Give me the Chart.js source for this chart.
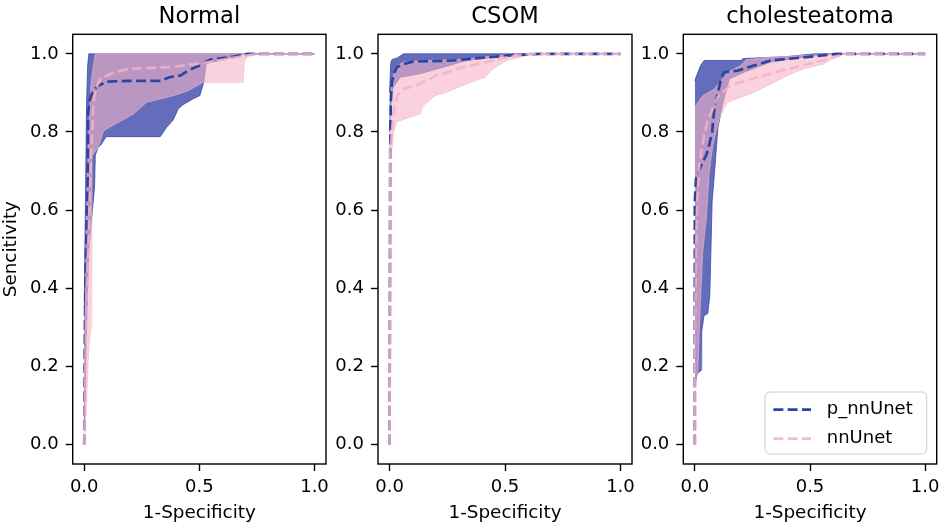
<!DOCTYPE html>
<html>
<head>
<meta charset="utf-8">
<script src="https://cdn.jsdelivr.net/npm/chart.js@4.4.1/dist/chart.umd.min.js"></script>
<style>
  html, body { margin: 0; padding: 0; background: #fff; }
  #wrap { position: relative; width: 941px; height: 526px; overflow: hidden; }
  canvas { position: absolute; top: 0; }
</style>
</head>
<body>
<div id="wrap">
  <canvas id="c1" width="332" height="526" style="left:0px"></canvas>
  <canvas id="c2" width="320" height="526" style="left:318px"></canvas>
  <canvas id="c3" width="318" height="526" style="left:623px"></canvas>
</div>
<script>
const panelNames = ['Normal', 'CSOM', 'cholesteatoma'];
const modelNames = ['p_nnUnet', 'nnUnet'];
const xTicks = [0, 0.5, 1.0];
const yTicks = [0, 0.2, 0.4, 0.6, 0.8, 1.0];

// [1-specificity, sensitivity] pairs, p_ = p_nnUnet, others = nnUnet
const normalPMean = [[0,0],[0.003,0.3],[0.008,0.5],[0.015,0.66],[0.017,0.85],[0.025,0.885],[0.035,0.9],[0.055,0.917],[0.1,0.929],[0.2,0.931],[0.33,0.931],[0.37,0.94],[0.42,0.945],[0.45,0.957],[0.5,0.97],[0.545,0.985],[0.65,0.993],[0.71,1.0],[1.0,1.0]];
const normalPUpper = [[0,0.35],[0.005,0.6],[0.01,0.87],[0.015,0.97],[0.02,1.0],[1.0,1.0]];
const normalPLower = [[0,0.05],[0.01,0.3],[0.02,0.5],[0.045,0.66],[0.048,0.74],[0.06,0.76],[0.07,0.765],[0.095,0.788],[0.33,0.788],[0.358,0.812],[0.387,0.831],[0.408,0.859],[0.427,0.869],[0.473,0.885],[0.502,0.893],[0.519,0.927],[0.53,0.975],[0.6,0.985],[0.7,1.0],[1.0,1.0]];
const normalMean = [[0,0],[0.005,0.2],[0.01,0.4],[0.02,0.55],[0.03,0.75],[0.04,0.87],[0.05,0.91],[0.07,0.936],[0.13,0.953],[0.2,0.962],[0.37,0.966],[0.5,0.975],[0.6,0.985],[0.7,0.995],[0.75,1.0],[1.0,1.0]];
const normalUpper = [[0,0.1],[0.005,0.35],[0.01,0.6],[0.02,0.8],[0.03,0.93],[0.04,0.97],[0.048,1.0],[1.0,1.0]];
const normalLower = [[0,0],[0.01,0.1],[0.02,0.25],[0.03,0.3],[0.033,0.47],[0.034,0.74],[0.062,0.76],[0.084,0.803],[0.11,0.812],[0.214,0.846],[0.271,0.876],[0.387,0.893],[0.45,0.905],[0.517,0.927],[0.69,0.927],[0.695,0.98],[0.715,1.0],[1.0,1.0]];

const csomPMean = [[0,0],[0.003,0.75],[0.005,0.87],[0.01,0.926],[0.02,0.952],[0.032,0.966],[0.06,0.974],[0.1,0.98],[0.275,0.983],[0.42,0.991],[0.52,0.996],[0.65,1.0],[1.0,1.0]];
const csomPUpper = [[0,0.9],[0.005,0.975],[0.01,0.985],[0.035,0.99],[0.06,1.0],[1.0,1.0]];
const csomPLower = [[0,0.8],[0.005,0.86],[0.01,0.9],[0.017,0.915],[0.046,0.94],[0.132,0.949],[0.233,0.966],[0.334,0.983],[0.45,0.992],[0.6,1.0],[1.0,1.0]];
const csomMean = [[0,0],[0.003,0.75],[0.01,0.8],[0.02,0.86],[0.035,0.895],[0.06,0.91],[0.12,0.92],[0.2,0.944],[0.32,0.966],[0.42,0.979],[0.5,0.99],[0.6,1.0],[1.0,1.0]];
const csomUpper = [[0,0.75],[0.005,0.85],[0.01,0.93],[0.025,0.966],[0.06,0.979],[0.15,0.983],[0.33,0.986],[0.45,0.995],[0.55,1.0],[1.0,1.0]];
const csomLower = [[0,0.75],[0.01,0.752],[0.017,0.8],[0.032,0.826],[0.089,0.838],[0.132,0.846],[0.146,0.867],[0.197,0.893],[0.248,0.902],[0.334,0.923],[0.413,0.94],[0.449,0.962],[0.507,0.983],[0.593,0.995],[0.65,1.0],[1.0,1.0]];

const cholPMean = [[0,0],[0,0.62],[0.005,0.68],[0.027,0.714],[0.049,0.74],[0.06,0.76],[0.075,0.8],[0.085,0.86],[0.1,0.9],[0.114,0.936],[0.128,0.953],[0.186,0.957],[0.257,0.97],[0.33,0.983],[0.4,0.987],[0.47,0.991],[0.62,1.0],[1.0,1.0]];
const cholPUpper = [[0,0.93],[0.005,0.94],[0.025,0.97],[0.04,0.983],[0.2,0.983],[0.21,0.988],[0.4,0.993],[0.52,1.0],[1.0,1.0]];
const cholPLower = [[0,0.15],[0.01,0.18],[0.027,0.19],[0.03,0.29],[0.04,0.33],[0.056,0.335],[0.065,0.38],[0.075,0.62],[0.09,0.73],[0.1,0.81],[0.12,0.87],[0.15,0.936],[0.214,0.953],[0.33,0.979],[0.45,0.99],[0.55,0.997],[0.65,1.0],[1.0,1.0]];
const cholMean = [[0,0],[0,0.2],[0.005,0.5],[0.01,0.62],[0.02,0.72],[0.04,0.79],[0.056,0.83],[0.1,0.89],[0.157,0.92],[0.27,0.94],[0.373,0.957],[0.531,0.979],[0.6,0.99],[0.65,1.0],[1.0,1.0]];
const cholUpper = [[0,0.86],[0.003,0.867],[0.034,0.893],[0.085,0.91],[0.142,0.953],[0.2,0.97],[0.222,0.985],[0.3,0.99],[0.45,0.995],[0.6,1.0],[1.0,1.0]];
const cholLower = [[0,0.16],[0.013,0.18],[0.02,0.3],[0.034,0.49],[0.05,0.58],[0.063,0.7],[0.078,0.765],[0.092,0.8],[0.106,0.833],[0.125,0.859],[0.142,0.876],[0.2,0.889],[0.257,0.902],[0.33,0.923],[0.4,0.944],[0.473,0.962],[0.56,0.974],[0.6,0.99],[0.65,1.0],[1.0,1.0]];

const blueLine = '#2a44a2';
const pinkLine = 'rgba(245, 178, 198, 0.85)';
const blueFill = 'rgba(60, 72, 170, 0.8)';
const pinkFill = 'rgba(245, 180, 200, 0.6)';

Chart.defaults.font.family = '"DejaVu Sans", sans-serif';
Chart.defaults.color = '#000';
Chart.defaults.elements.point.radius = 0;

function toPoints(pairs) {
    return pairs.map(p => ({ x: p[0], y: p[1] }));
}

// box around the plot area, like matplotlib spines
const framePlugin = {
    id: 'frame',
    afterDatasetsDraw(chart) {
        const a = chart.chartArea;
        const ctx = chart.ctx;
        ctx.save();
        ctx.strokeStyle = '#000';
        ctx.lineWidth = 1.4;
        ctx.strokeRect(a.left, a.top, a.right - a.left, a.bottom - a.top);
        ctx.restore();
    }
};

// legend drawn inside the lower right corner
const insideLegend = {
    id: 'insideLegend',
    afterDraw(chart, args, opts) {
        if (!opts.show) return;
        const ctx = chart.ctx;
        const a = chart.chartArea;
        const items = modelNames.map(n => chart.data.datasets.find(d => d.label === n));
        ctx.save();
        ctx.font = '18px "DejaVu Sans", sans-serif';
        const textW = Math.max(...items.map(d => ctx.measureText(d.label).width));
        const w = 8.3 + 37.7 + 15.7 + textW + 14;
        const h = 62;
        const right = a.right - 10, bottom = a.bottom - 10;
        const left = right - w, top = bottom - h, r = 5;
        ctx.beginPath();
        ctx.moveTo(left + r, top);
        ctx.lineTo(right - r, top);
        ctx.arcTo(right, top, right, top + r, r);
        ctx.lineTo(right, bottom - r);
        ctx.arcTo(right, bottom, right - r, bottom, r);
        ctx.lineTo(left + r, bottom);
        ctx.arcTo(left, bottom, left, bottom - r, r);
        ctx.lineTo(left, top + r);
        ctx.arcTo(left, top, left + r, top, r);
        ctx.closePath();
        ctx.fillStyle = 'rgba(255,255,255,0.8)';
        ctx.fill();
        ctx.strokeStyle = '#cccccc';
        ctx.lineWidth = 1;
        ctx.stroke();
        items.forEach((d, i) => {
            const y = top + 17.6 + i * 29;
            ctx.beginPath();
            ctx.setLineDash(d.borderDash);
            ctx.strokeStyle = d.borderColor;
            ctx.lineWidth = d.borderWidth;
            ctx.moveTo(left + 8.3, y);
            ctx.lineTo(left + 46, y);
            ctx.stroke();
            ctx.setLineDash([]);
            ctx.fillStyle = '#000';
            ctx.textBaseline = 'middle';
            ctx.textAlign = 'left';
            ctx.fillText(d.label, left + 61.7, y);
        });
        ctx.restore();
    }
};

function buildDatasets(pMean, pUpper, pLower, mean, upper, lower) {
    const meanStyle = { borderWidth: 2.7, borderDash: [10, 4.3], fill: false, tension: 0 };
    const bandStyle = { borderWidth: 1, tension: 0 };
    return [
        Object.assign({ label: modelNames[1], data: toPoints(mean), borderColor: pinkLine }, meanStyle),
        Object.assign({ label: modelNames[0], data: toPoints(pMean), borderColor: blueLine }, meanStyle),
        Object.assign({ data: toPoints(upper), borderColor: pinkFill, backgroundColor: pinkFill, fill: '+1' }, bandStyle),
        Object.assign({ data: toPoints(lower), borderColor: pinkFill, fill: false }, bandStyle),
        Object.assign({ data: toPoints(pUpper), borderColor: blueFill, backgroundColor: blueFill, fill: '+1' }, bandStyle),
        Object.assign({ data: toPoints(pLower), borderColor: blueFill, fill: false }, bandStyle)
    ];
}

function makeChart(id, title, datasets, yWidth, padRight, showYTitle, showLegend) {
    return new Chart(document.getElementById(id), {
        type: 'line',
        data: { datasets: datasets },
        options: {
            responsive: false,
            animation: false,
            layout: { padding: { right: padRight } },
            plugins: {
                legend: { display: false },
                tooltip: { enabled: false },
                title: {
                    display: true, text: title, fullSize: false, color: '#000',
                    font: { size: 22.6, weight: 'normal' },
                    padding: { top: 3.7, bottom: 3.5 }
                },
                insideLegend: { show: showLegend }
            },
            scales: {
                x: {
                    type: 'linear', min: -0.05, max: 1.05,
                    afterBuildTicks: s => { s.ticks = xTicks.map(v => ({ value: v })); },
                    afterFit: s => { s.height = 62; s.paddingLeft = 0; s.paddingRight = 0; },
                    ticks: { callback: v => v.toFixed(1), font: { size: 18 }, color: '#000', padding: 5.5, maxRotation: 0, autoSkip: false },
                    grid: { drawOnChartArea: false, drawTicks: true, tickLength: 7, tickWidth: 1.4, tickColor: '#000' },
                    border: { display: false },
                    title: { display: true, text: '1-Specificity', font: { size: 18.4 }, color: '#000', padding: { top: 0, bottom: 2.2 } }
                },
                y: {
                    type: 'linear', min: -0.05, max: 1.05,
                    afterBuildTicks: s => { s.ticks = yTicks.map(v => ({ value: v })); },
                    afterFit: s => { s.width = yWidth; s.paddingTop = 0; s.paddingBottom = 0; },
                    ticks: { callback: v => v.toFixed(1), font: { size: 18 }, color: '#000', padding: 7, autoSkip: false },
                    grid: { drawOnChartArea: false, drawTicks: true, tickLength: 7, tickWidth: 1.4, tickColor: '#000' },
                    border: { display: false },
                    title: { display: showYTitle, text: 'Sencitivity', font: { size: 18.4 }, color: '#000', padding: { top: 0, bottom: 0 } }
                }
            }
        },
        plugins: [framePlugin, insideLegend]
    });
}

makeChart('c1', panelNames[0], buildDatasets(normalPMean, normalPUpper, normalPLower, normalMean, normalUpper, normalLower), 72.7, 6, true, false);
makeChart('c2', panelNames[1], buildDatasets(csomPMean, csomPUpper, csomPLower, csomMean, csomUpper, csomLower), 60, 6, false, false);
makeChart('c3', panelNames[2], buildDatasets(cholPMean, cholPUpper, cholPLower, cholMean, cholUpper, cholLower), 60.3, 4.3, false, true);
</script>
</body>
</html>
